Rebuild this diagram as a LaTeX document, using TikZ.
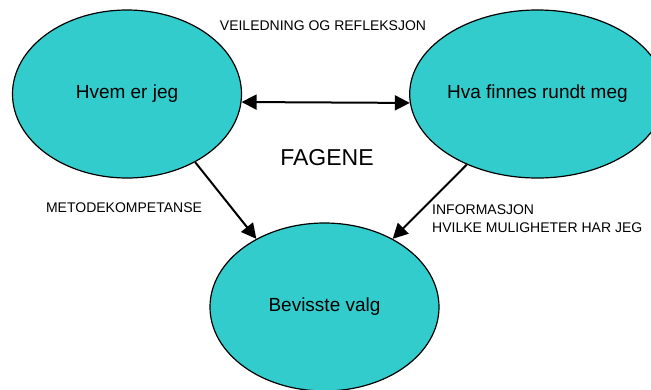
\documentclass[tikz,border=0pt]{standalone}
\usepackage{fontspec}
\setmainfont{Liberation Sans}
\usetikzlibrary{arrows.meta, positioning, shapes.geometric}
\definecolor{turkis}{HTML}{33CCCC}
\tikzset{
  sirkel/.style={draw, ellipse, thick, fill=turkis, line width=1.2pt, minimum width=229pt, minimum height=168pt, inner sep=0pt, font=\fontsize{19}{22}\selectfont},
  pil/.style={line width=2pt, -{Triangle[length=15pt, width=15pt]}},
  dobbelpil/.style={line width=2pt, {Triangle[length=15pt, width=15pt]}-{Triangle[length=15pt, width=15pt]}},
  liten/.style={font=\fontsize{14}{18}\selectfont, inner sep=0pt}
}
\begin{document}
\begin{tikzpicture}[x=1pt, y=-1pt]
            \useasboundingbox (0,0) rectangle (651,389);
            \node[sirkel] (hvem) at (127,94) {Hvem er jeg};
            \node[sirkel, right=167pt of hvem] (hva) {Hva finnes rundt meg};
            \node[sirkel] (bevisste) at (324.5,307) {Bevisste valg};
            \draw[dobbelpil] (hvem.-4) -- (hva.184);
            \draw[pil] (hvem.-45) -- (bevisste.135);
            \draw[pil] (hva.-135) -- (bevisste.45);

            \node[liten] (veiledning) at (323,26) {VEILEDNING OG REFLEKSJON};
            \node[font=\fontsize{23}{26}\selectfont, inner sep=0pt] (fagene) at (327,158) {FAGENE};
            \node[liten] (metode) at (124,208) {METODEKOMPETANSE};
            \node[liten, align=left, anchor=west] (informasjon) at (432,219) {INFORMASJON\\HVILKE MULIGHETER HAR JEG};
      \end{tikzpicture}
\end{document}
